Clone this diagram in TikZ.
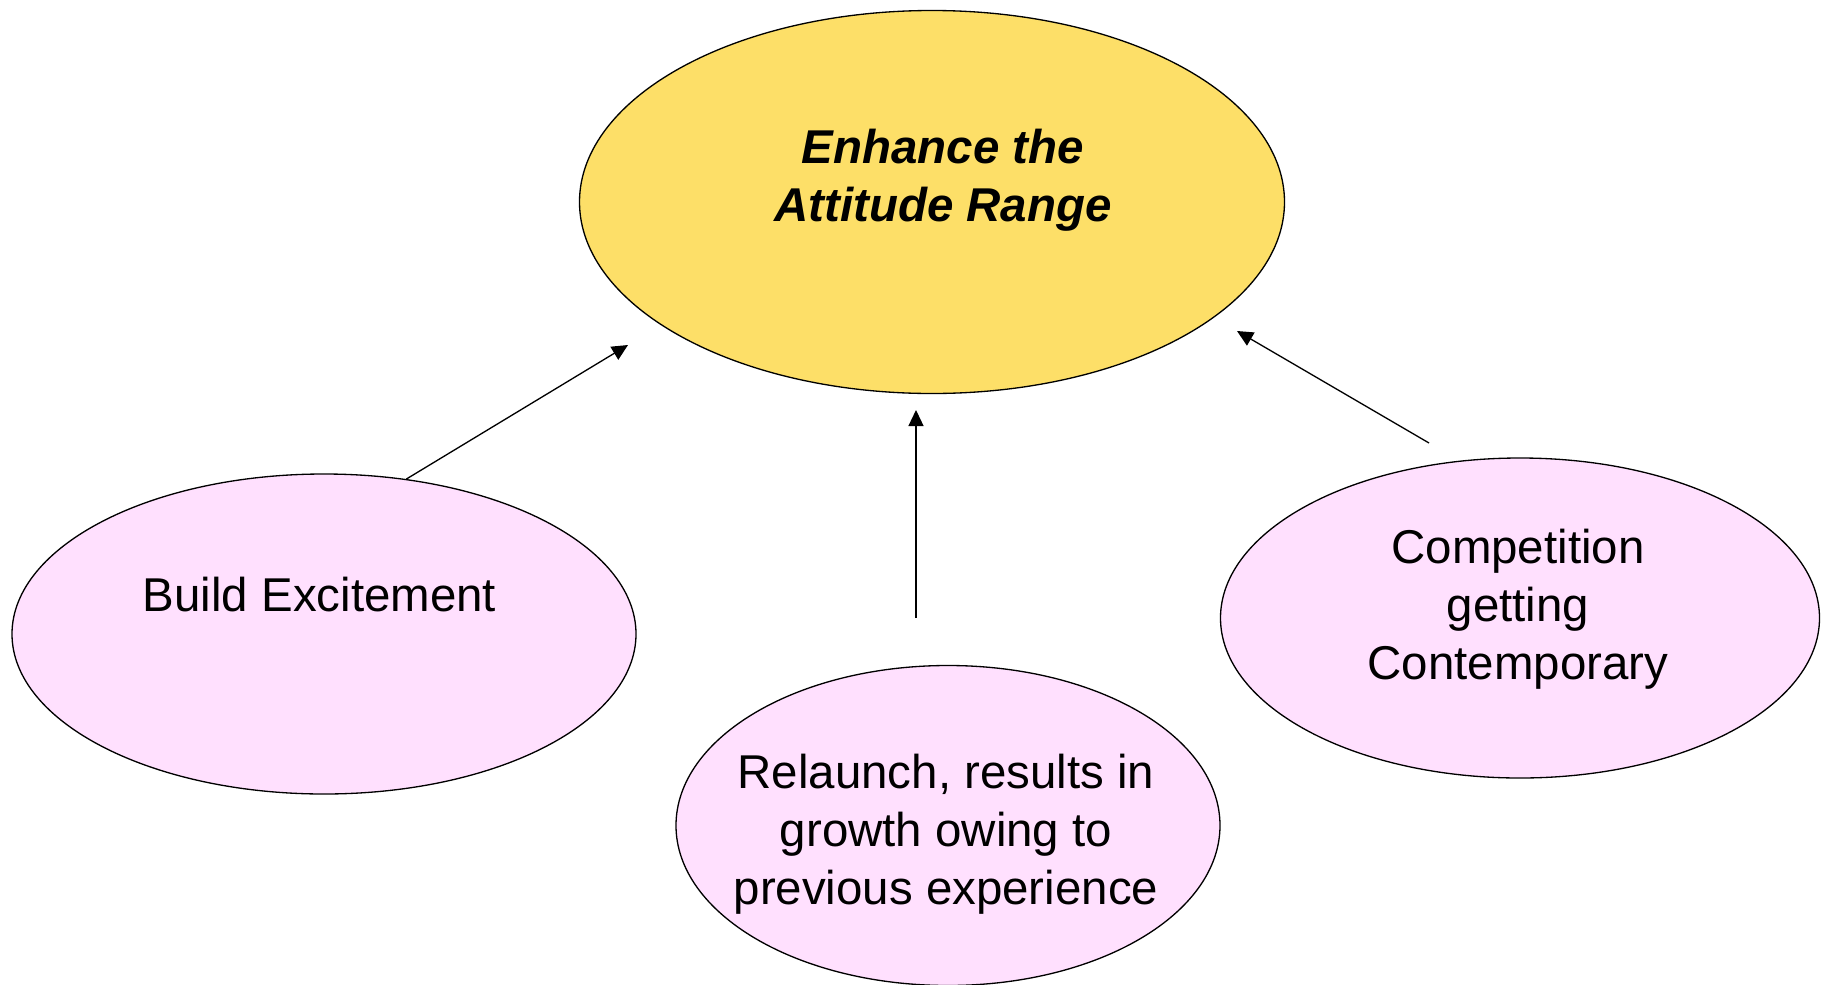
\documentclass[tikz,border=0pt]{standalone}
\usepackage{fontspec}
\setmainfont{Liberation Sans}
\usetikzlibrary{shapes.geometric,arrows.meta,calc}
\definecolor{goalyellow}{RGB}{253,223,104}
\definecolor{subpink}{RGB}{255,224,254}
\tikzset{
  ell_n/.style = {ellipse, draw=black, line width=0.75pt, inner sep=0pt},
  ell_goal/.style = {ell_n, fill=goalyellow, minimum width=14.1cm, minimum height=7.66cm},
  ell_sub/.style = {ell_n, fill=subpink, minimum height=6.4cm},
  txt_n/.style = {align=center, inner sep=0pt, text centered, font=\fontsize{27}{33}\selectfont},
  txt_goal/.style = {txt_n, font=\fontsize{27}{33}\selectfont\bfseries\itshape},
  arr_n/.style = {line width=0.75pt, -{Triangle[length=0.32cm, width=0.3cm]}}
}

\begin{document}
\begin{tikzpicture}
	\useasboundingbox (0,0) rectangle (36.42,-19.68);
	% ellipses
	\node [ell_goal] (goal) at (18.64,-4.04) {};
	\node [ell_sub, minimum width=12.48cm] (build) at (6.48,-12.68) {};
	\node [ell_sub, minimum width=10.88cm] (relaunch) at (18.96,-16.51) {};
	\node [ell_sub, minimum width=11.98cm] (compete) at (30.4,-12.36) {};
	% texts
	\node [txt_goal] (goal_t) at ($(goal.center)+(0.22,0.44)$) {Enhance the\\Attitude Range};
	\node [txt_n] (build_t) at ($(build.center)+(-0.09,0.79)$) {Build Excitement};
	\node [txt_n] (relaunch_t) at ($(relaunch.center)+(-0.04,-0.17)$) {Relaunch, results in\\growth owing to\\previous experience};
	\node [txt_n] (compete_t) at ($(compete.center)+(-0.04,0.18)$) {Competition\\getting\\Contemporary};
	% arrow ends
	\coordinate (goal_l) at (12.56,-6.9);
	\coordinate (goal_m) at (18.32,-8.2);
	\coordinate (goal_r) at (24.74,-6.62);
	\coordinate (relaunch_o) at (18.32,-12.36);
	\coordinate (compete_o) at (28.58,-8.86);
	% arrows
	\draw [arr_n] (build.62) -- (goal_l);
	\draw [arr_n] (relaunch_o) -- (goal_m);
	\draw [arr_n] (compete_o) -- (goal_r);
\end{tikzpicture}
\end{document}
